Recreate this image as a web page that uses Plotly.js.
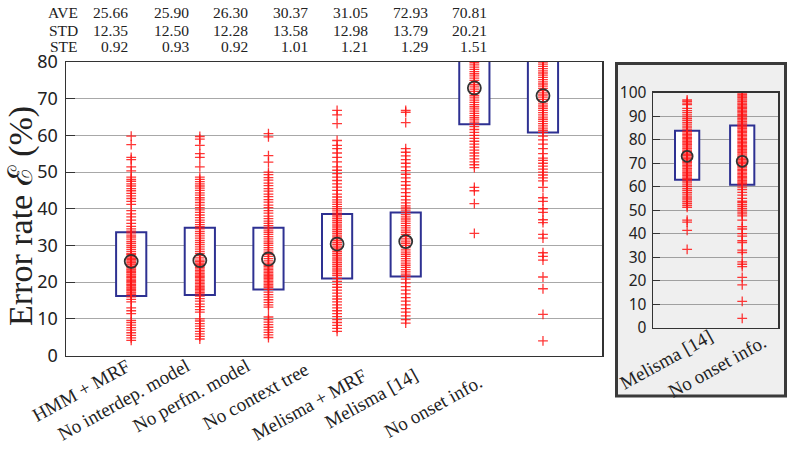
<!DOCTYPE html>
<html><head><meta charset="utf-8">
<script src="https://cdn.plot.ly/plotly-3.0.1.min.js"></script>
<style>html,body{margin:0;padding:0;background:#fff}#c{width:789px;height:453px}</style>
</head><body><div id="c"></div>
<script>
// ---------------- data ----------------
const categories = ['HMM + MRF','No interdep. model','No perfm. model','No context tree','Melisma + MRF','Melisma [14]','No onset info.'];
const insetCategories = ['Melisma [14]','No onset info.'];

const statRows = ['AVE','STD','STE'];
const AVE = [25.66, 25.90, 26.30, 30.37, 31.05, 72.93, 70.81];
const STD = [12.35, 12.50, 12.28, 13.58, 12.98, 13.79, 20.21];
const STE = [0.92, 0.93, 0.92, 1.01, 1.21, 1.29, 1.51];

const q1 = [16.2, 16.5, 18.0, 21.0, 21.5, 63.0, 60.8];
const q3 = [33.6, 34.8, 34.8, 38.6, 39.0, 83.8, 86.0];

const hmmMrf = [59.8,57.5,54.0,53.4,51.4,50.3,48.6,48.0,47.5,46.8,46.2,45.5,44.9,44.2,43.5,42.8,42.0,41.2,
 39.5,38.6,37.8,36.9,36.0,35.2,34.5,33.9,33.4,32.8,32.3,31.7,31.1,30.6,30.0,29.5,28.9,28.4,27.8,
 27.5,27.1,26.8,26.4,26.1,25.7,25.4,25.0,24.7,24.3,24.0,23.6,23.3,22.9,22.6,22.2,21.9,21.5,21.2,20.8,20.5,20.1,
 19.8,19.4,19.1,18.7,18.4,18.0,17.7,17.3,17.0,16.6,16.0,15.3,14.6,13.0,12.2,11.4,9.6,9.0,8.3,7.6,6.9,6.2,5.5,4.8,4.1];
const noInterdep = [59.7,59.0,57.3,55.0,54.0,51.4,48.6,48.0,47.4,46.8,46.2,45.6,45.0,44.3,43.7,43.0,42.4,41.7,41.0,40.3,
 39.7,39.0,38.3,37.6,36.9,36.3,35.7,35.1,34.5,33.8,33.2,32.6,32.0,31.4,30.8,30.2,29.6,29.0,28.4,27.8,27.2,26.6,26.0,
 25.6,25.2,24.8,24.4,24.0,23.6,23.2,22.8,22.4,22.0,21.6,21.2,20.8,20.4,20.0,19.6,19.2,18.8,18.4,18.0,17.6,17.2,16.8,
 16.2,15.5,14.8,14.0,13.3,12.5,11.8,10.0,9.4,8.7,8.0,7.3,6.6,5.9,5.2,4.5];
const noPerfm = [60.5,59.6,54.5,52.7,50.0,49.3,48.5,47.8,47.0,46.3,45.5,44.8,44.0,43.3,42.5,41.8,41.0,40.3,39.5,38.8,38.0,37.3,
 36.6,36.0,35.4,34.8,34.2,33.6,33.0,32.4,31.8,31.2,30.6,30.0,29.4,28.8,28.2,27.6,27.0,26.4,25.8,25.2,24.6,
 24.2,23.8,23.4,23.0,22.6,22.2,21.8,21.4,21.0,20.6,20.2,19.8,19.4,19.0,18.6,
 18.0,17.3,16.6,15.9,15.2,14.5,13.8,13.2,10.5,9.8,9.1,8.4,7.7,7.0,6.3,5.6,4.9];
const noContext = [66.8,65.6,63.2,58.6,57.3,56.4,55.2,54.0,52.8,51.4,50.5,49.6,48.6,47.7,46.8,45.9,45.0,44.0,43.2,42.4,
 41.8,41.2,40.6,40.0,39.4,38.8,38.3,37.8,37.3,36.8,36.3,35.8,35.3,34.8,34.3,33.8,33.3,32.8,32.3,31.8,31.3,30.8,30.3,
 29.8,29.3,28.8,28.3,27.8,27.3,26.8,26.3,25.8,25.3,24.8,24.3,23.8,23.3,22.8,22.3,21.8,
 21.0,20.2,19.4,18.6,17.8,17.0,16.2,15.4,14.6,13.8,13.0,12.2,11.4,10.6,9.8,9.0,8.2,7.4,6.6];
const melismaMrf = [66.8,66.3,63.5,56.4,55.4,54.4,53.4,52.4,51.4,50.4,49.4,48.4,47.4,46.4,45.4,44.4,43.4,42.4,41.6,
 40.8,40.2,39.6,39.0,38.4,37.8,37.2,36.6,36.0,35.4,34.8,34.2,33.6,33.0,32.4,31.8,31.2,30.6,
 30.0,29.4,28.8,28.2,27.6,27.0,26.4,25.8,25.2,24.6,24.0,23.4,22.8,22.2,21.6,
 20.8,19.8,18.8,17.8,16.8,15.8,14.8,13.8,12.8,11.8,10.8,9.8,8.8];
const melisma14 = [96.9,96.3,95.6,94.9,93.3,92.4,91.5,90.6,89.7,89.0,88.2,87.4,86.6,85.8,85.0,84.2,83.4,
 82.8,82.2,81.6,81.0,80.4,79.8,79.2,78.6,78.0,77.4,76.8,76.2,75.6,75.0,74.4,73.8,73.2,72.6,72.0,71.4,70.8,70.2,
 69.6,69.0,68.4,67.8,67.2,66.6,66.0,65.4,64.8,64.2,63.6,63.0,62.4,61.6,60.8,60.0,59.2,58.4,57.6,56.8,
 56.0,55.2,54.4,53.6,52.8,52.0,51.2,45.8,44.9,41.4,33.3];
const noOnset = [99.8,99.2,98.6,98.0,97.4,96.8,96.2,95.6,95.0,94.4,93.8,93.2,92.6,92.0,91.4,90.8,90.2,89.6,89.0,
 88.4,87.8,87.2,86.6,86.0,85.4,84.8,84.2,83.6,83.0,82.4,81.8,81.2,80.6,80.0,79.4,78.8,78.2,77.6,77.0,76.4,75.8,75.2,
 74.6,74.0,73.4,72.8,72.2,71.6,71.0,70.4,69.8,69.2,68.6,68.0,67.4,66.8,66.2,65.6,65.0,64.4,63.8,63.2,62.6,62.0,61.4,60.8,
 59.8,58.8,57.6,56.4,55.0,53.8,53.2,52.4,51.6,50.8,50.0,49.2,48.4,47.6,
 45.8,43.0,42.0,40.0,39.0,37.0,36.2,33.0,32.0,28.0,27.0,26.0,21.4,18.2,11.2,4.0];

const seriesValues = [hmmMrf, noInterdep, noPerfm, noContext, melismaMrf, melisma14, noOnset];
const yTicksMain = [0,10,20,30,40,50,60,70,80];
const yTicksInset = [0,10,20,30,40,50,60,70,80,90,100];

// ---------------- layout helpers ----------------
const W = 789, H = 453;
const px = v => v / W;
const py = v => 1 - v / H;

const BOX = '#2e3192', RED = 'rgba(255,20,20,0.85)', TXT = '#222';
const serif = 'Liberation Serif, Times New Roman, serif';
const sans = 'Noto Sans, Open Sans, sans-serif';

const traces = [];
function addGroup(cats, idxs, xa, ya, circleSize) {
  traces.push({
    type: 'bar', x: cats, base: idxs.map(i => q1[i]), y: idxs.map(i => q3[i] - q1[i]),
    width: 0.44, marker: {color: '#fff', line: {color: BOX, width: 2}},
    xaxis: xa, yaxis: ya, hoverinfo: 'skip', showlegend: false
  });
  idxs.forEach((i, k) => {
    traces.push({
      type: 'scatter', mode: 'markers', x: seriesValues[i].map(() => cats[k]), y: seriesValues[i],
      marker: {symbol: 'cross-thin-open', size: 7, color: RED, line: {color: RED, width: 1.3}},
      xaxis: xa, yaxis: ya, showlegend: false
    });
  });
  traces.push({
    type: 'scatter', mode: 'markers', x: cats, y: idxs.map(i => AVE[i]),
    marker: {symbol: 'circle-open', size: circleSize, color: '#333', line: {color: '#333', width: 1.8}},
    xaxis: xa, yaxis: ya, showlegend: false
  });
}
addGroup(categories, [0,1,2,3,4,5,6], 'x', 'y', 13);
addGroup(insetCategories, [5,6], 'x2', 'y2', 11);

const annotations = [];
// stats table
const tableY = [12, 30, 47];
const tableX = [130, 191, 250, 310, 370, 430, 489];
const tableVals = [AVE, STD, STE];
statRows.forEach((r, ri) => {
  annotations.push({xref:'paper', yref:'paper', x: px(80), y: py(tableY[ri]), xanchor:'right', yanchor:'middle',
    text: r, showarrow:false, font:{family:serif, size:15.5, color:TXT}});
  tableVals[ri].forEach((v, ci) => {
    annotations.push({xref:'paper', yref:'paper', x: px(tableX[ci]), y: py(tableY[ri]), xanchor:'right', yanchor:'middle',
      text: v.toFixed(2), showarrow:false, font:{family:serif, size:15.5, color:TXT}});
  });
});
// rotated category labels
const labelPos = [[136,352],[196,352],[256,352],[314,356],[373,362],[424,362],[488,368]];
categories.forEach((c, i) => {
  annotations.push({xref:'paper', yref:'paper', x: px(labelPos[i][0]), y: py(labelPos[i][1]), xanchor:'right', yanchor:'top',
    text: c, textangle: -29, showarrow:false, font:{family:serif, size:19, color:TXT}});
});
const insetLabelPos = [[719,323],[772,328]];
insetCategories.forEach((c, i) => {
  annotations.push({xref:'paper', yref:'paper', x: px(insetLabelPos[i][0]), y: py(insetLabelPos[i][1]), xanchor:'right', yanchor:'top',
    text: c, textangle: -29, showarrow:false, font:{family:serif, size:19, color:TXT}});
});
// y title
annotations.push({xref:'paper', yref:'paper', x: px(21), y: py(216), xanchor:'center', yanchor:'middle',
  text: 'Error rate \u2130 (%)', textangle: -90, showarrow:false, font:{family:serif, size:34, color:TXT}});

const layout = {
  width: W, height: H, margin: {l:0, r:0, t:0, b:0},
  paper_bgcolor: '#fff', plot_bgcolor: 'rgba(0,0,0,0)',
  barmode: 'overlay', showlegend: false,
  xaxis: {domain: [px(66), px(602)], type:'category', range: [-0.95, 6.86], showticklabels:false, ticks:'',
    showgrid:false, showline:true, mirror:true, linecolor:'#333', linewidth:1.5, zeroline:false, fixedrange:true},
  yaxis: {domain: [py(355.5), py(62)], range: [0, 80], tickvals: yTicksMain, ticks:'inside', ticklen:9, tickcolor:'#333',
    showgrid:true, gridcolor:'#a8a8a8', gridwidth:1, showline:true, mirror:true, linecolor:'#333', linewidth:1.5,
    zeroline:false, tickfont:{family:sans, size:18, color:TXT}, ticklabelstandoff: 3},
  xaxis2: {domain: [px(653), px(778)], anchor:'y2', type:'category', range: [-0.62, 1.65], showticklabels:false, ticks:'',
    showgrid:false, showline:true, mirror:true, linecolor:'#333', linewidth:1.5, zeroline:false},
  yaxis2: {domain: [py(327.7), py(92.7)], anchor:'x2', range: [0, 100], tickvals: yTicksInset, ticks:'inside', ticklen:7, tickcolor:'#333',
    showgrid:true, gridcolor:'#a0a0a0', gridwidth:1, showline:true, mirror:true, linecolor:'#333', linewidth:1.5,
    zeroline:false, tickfont:{family:sans, size:15.5, color:TXT}, ticklabelstandoff: 2},
  shapes: [{type:'rect', xref:'paper', yref:'paper', x0: px(616.5), x1: px(785.5), y0: py(396), y1: py(63.5),
    fillcolor:'#efefef', line:{color:'#3a3a3a', width:3}, layer:'below'}],
  annotations: annotations
};

Plotly.newPlot('c', traces, layout, {staticPlot:true, displayModeBar:false});
</script></body></html>
